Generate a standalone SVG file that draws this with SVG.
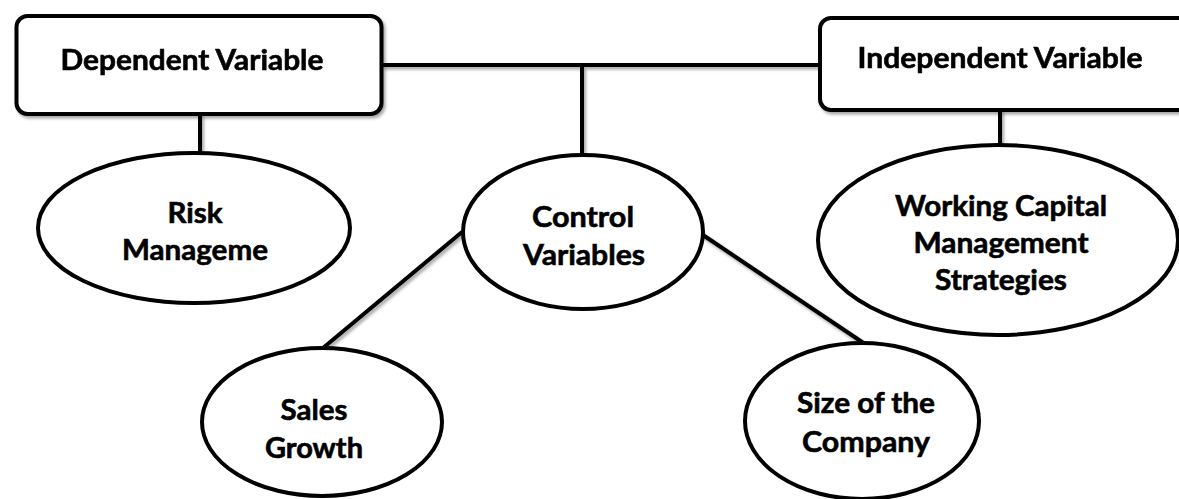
<svg xmlns="http://www.w3.org/2000/svg" width="1179" height="499" viewBox="0 0 1179 499">
<style>
.box{fill:#fff;stroke:#000;stroke-width:4}
.ell{fill:#fff;stroke:#000;stroke-width:4}
.ln{stroke:#000;stroke-width:4;fill:none}
.t{font-family:Lato,"Liberation Sans",sans-serif;font-weight:bold;fill:#000;stroke:#000;stroke-width:0.6;text-anchor:middle}
.tb{font-size:29px}
.te{font-size:29px}
</style>
<defs>
<filter id="sh" x="-10%" y="-10%" width="130%" height="140%">
<feDropShadow dx="2" dy="2.5" stdDeviation="1.5" flood-color="#000" flood-opacity="0.35"/>
</filter>
<clipPath id="clipRisk"><rect x="0" y="0" width="1179" height="266"/></clipPath>
<clipPath id="clipWcm"><rect x="0" y="0" width="1179" height="296"/></clipPath>
</defs>
<rect width="1179" height="499" fill="#fff"/>
<g id="connectors" filter="url(#sh)">
<line class="ln" x1="382" y1="65" x2="820" y2="65"/>
<line class="ln" x1="200" y1="114" x2="200" y2="154"/>
<line class="ln" x1="582" y1="65" x2="582" y2="156"/>
<line class="ln" x1="1000" y1="110" x2="1000" y2="146"/>
<line class="ln" x1="462" y1="232" x2="323" y2="348"/>
<line class="ln" x1="700" y1="233" x2="865" y2="344"/>
</g>
<g id="dependent" filter="url(#sh)">
<rect class="box" x="16.5" y="16" width="365" height="98" rx="11"/>
<text class="t tb" x="192" y="70" textLength="263" lengthAdjust="spacingAndGlyphs">Dependent Variable</text>
</g>
<g id="independent" filter="url(#sh)">
<rect class="box" x="820" y="18" width="372" height="92" rx="11"/>
<text class="t tb" x="1000" y="68" textLength="285" lengthAdjust="spacingAndGlyphs">Independent Variable</text>
</g>
<g id="risk">
<ellipse class="ell" cx="194" cy="228" rx="156" ry="75"/>
<g clip-path="url(#clipRisk)">
<text class="t te" x="195" y="223" textLength="55" lengthAdjust="spacingAndGlyphs">Risk</text>
<text class="t te" x="195" y="260" textLength="146" lengthAdjust="spacingAndGlyphs">Manageme</text>
</g>
</g>
<g id="control">
<ellipse class="ell" cx="583" cy="232" rx="120" ry="77"/>
<text class="t te" x="583" y="227" textLength="102" lengthAdjust="spacingAndGlyphs">Control</text>
<text class="t te" x="584" y="265" textLength="122" lengthAdjust="spacingAndGlyphs">Variables</text>
</g>
<g id="wcm">
<ellipse class="ell" cx="998" cy="240" rx="180" ry="95"/>
<g clip-path="url(#clipWcm)">
<text class="t te" x="1001" y="216" textLength="212" lengthAdjust="spacingAndGlyphs">Working Capital</text>
<text class="t te" x="1001" y="253" textLength="175" lengthAdjust="spacingAndGlyphs">Management</text>
<text class="t te" x="1001" y="290" textLength="132" lengthAdjust="spacingAndGlyphs">Strategies</text>
</g>
</g>
<g id="sales">
<ellipse class="ell" cx="322" cy="422" rx="120" ry="74"/>
<text class="t te" x="314" y="420" textLength="67" lengthAdjust="spacingAndGlyphs">Sales</text>
<text class="t te" x="314" y="458" textLength="98" lengthAdjust="spacingAndGlyphs">Growth</text>
</g>
<g id="size">
<ellipse class="ell" cx="862" cy="421" rx="117" ry="78"/>
<text class="t te" x="866" y="413" textLength="138" lengthAdjust="spacingAndGlyphs">Size of the</text>
<text class="t te" x="866" y="452" textLength="128" lengthAdjust="spacingAndGlyphs">Company</text>
</g>
</svg>
